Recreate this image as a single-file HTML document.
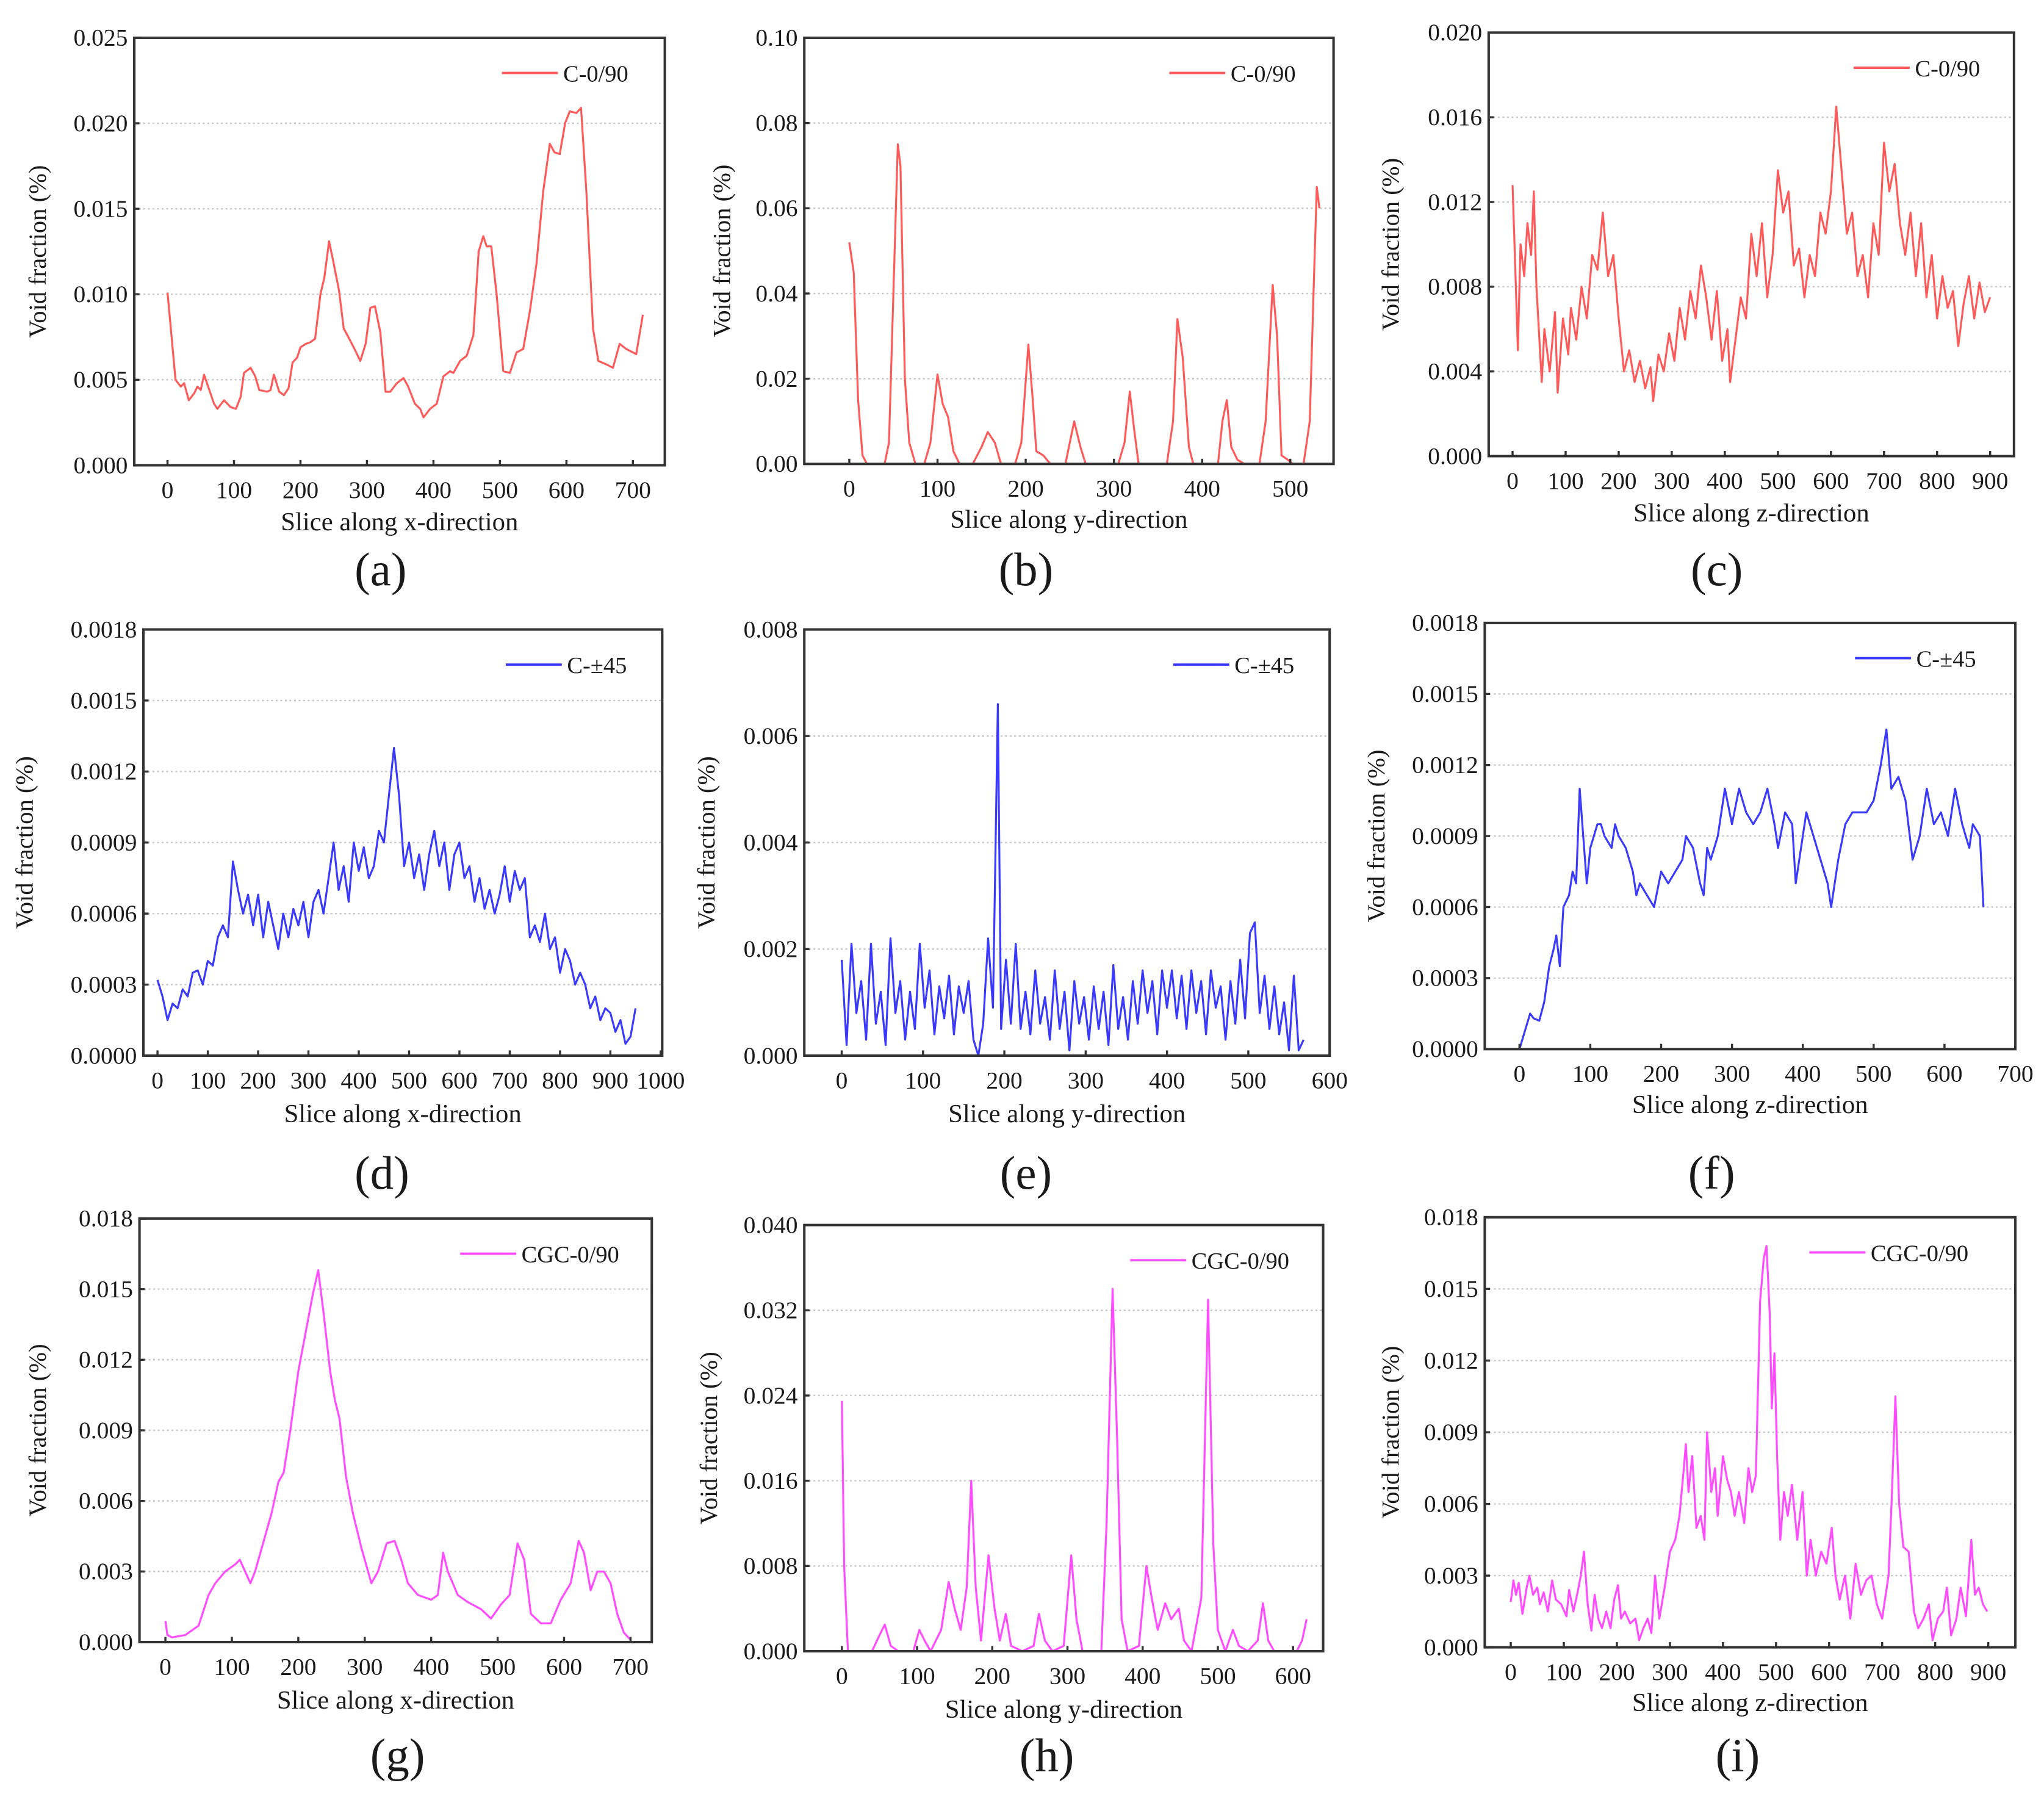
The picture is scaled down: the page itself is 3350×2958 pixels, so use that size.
<!DOCTYPE html>
<html><head><meta charset="utf-8">
<style>
html,body{margin:0;padding:0;background:#fff;}
svg{display:block;}
text{font-family:"Liberation Serif","DejaVu Serif",serif;fill:#1a1a1a;}
</style></head>
<body>
<svg id="fig" width="3350" height="2958" viewBox="0 0 1568 1385" preserveAspectRatio="none" xmlns="http://www.w3.org/2000/svg"></svg>
<script>
// ---------- data: panel (a) ----------
const aX=[0,5,12,20,25,32,40,45,50,55,62,70,75,85,95,103,110,115,125,132,138,150,155,160,168,175,182,188,195,200,208,215,222,230,236,243,250,258,265,272,280,290,298,305,312,320,328,335,345,355,362,372,380,385,395,405,415,425,430,440,450,460,468,475,480,487,495,505,515,525,535,545,555,565,575,582,590,598,605,615,622,630,640,648,660,670,680,690,705,715];
const aY=[0.0101,0.008,0.005,0.0046,0.0048,0.0038,0.0042,0.0046,0.0044,0.0053,0.0045,0.0036,0.0033,0.0038,0.0034,0.0033,0.004,0.0054,0.0057,0.0052,0.0044,0.0043,0.0044,0.0053,0.0043,0.0041,0.0045,0.006,0.0063,0.0069,0.0071,0.0072,0.0074,0.0100,0.0110,0.0131,0.0118,0.0102,0.0080,0.0075,0.0069,0.0061,0.0071,0.0092,0.0093,0.0078,0.0043,0.0043,0.0048,0.0051,0.0046,0.0036,0.0033,0.0028,0.0033,0.0036,0.0052,0.0055,0.0054,0.0061,0.0064,0.0076,0.0125,0.0134,0.0128,0.0128,0.0100,0.0055,0.0054,0.0066,0.0068,0.0090,0.0118,0.0160,0.0188,0.0183,0.0182,0.0200,0.0207,0.0206,0.0209,0.0160,0.0080,0.0061,0.0059,0.0057,0.0071,0.0068,0.0065,0.0088];
// ---------- panel (b) ----------
const bX=[0,5,10,15,20,40,45,50,55,58,63,68,75,85,92,100,106,112,118,125,140,150,157,165,172,188,195,203,208,212,220,228,245,255,262,268,305,312,318,323,328,360,367,372,378,385,390,418,423,428,433,440,448,465,472,480,485,490,497,503,515,522,527,530,533];
const bY=[0.052,0.045,0.015,0.002,0,0,0.005,0.04,0.075,0.07,0.02,0.005,0,0,0.005,0.021,0.014,0.011,0.003,0,0,0.004,0.0075,0.005,0,0,0.005,0.028,0.015,0.003,0.002,0,0,0.010,0.004,0,0,0.005,0.017,0.008,0,0,0.01,0.034,0.025,0.004,0,0,0.01,0.015,0.004,0.001,0,0,0.01,0.042,0.03,0.002,0.001,0,0,0.01,0.045,0.065,0.06];
// ---------- panel (c) ----------
const cX=[0,5,10,15,22,28,35,40,45,55,60,70,80,85,95,105,110,120,130,140,150,160,170,180,190,200,210,220,230,240,250,260,265,275,285,295,305,315,325,335,345,355,365,375,385,395,405,410,420,430,440,450,460,470,480,490,500,510,520,530,540,550,560,570,580,590,600,610,620,630,640,650,660,670,680,690,700,710,720,730,740,750,760,770,780,790,800,810,820,830,840,850,860,870,880,890,900];
const cY=[0.0128,0.009,0.005,0.010,0.0085,0.011,0.0095,0.0125,0.008,0.0035,0.006,0.004,0.0068,0.003,0.0065,0.0048,0.007,0.0055,0.008,0.0065,0.0095,0.0088,0.0115,0.0085,0.0095,0.0065,0.004,0.005,0.0035,0.0045,0.0032,0.0042,0.0026,0.0048,0.004,0.0058,0.0045,0.007,0.0055,0.0078,0.0065,0.009,0.0075,0.0055,0.0078,0.0045,0.006,0.0035,0.0055,0.0075,0.0065,0.0105,0.0085,0.011,0.0075,0.0095,0.0135,0.0115,0.0125,0.009,0.0098,0.0075,0.0095,0.0085,0.0115,0.0105,0.0125,0.0165,0.0135,0.0105,0.0115,0.0085,0.0095,0.0075,0.011,0.0095,0.0148,0.0125,0.0138,0.011,0.0095,0.0115,0.0085,0.011,0.0075,0.0095,0.0065,0.0085,0.007,0.0078,0.0052,0.0072,0.0085,0.0065,0.0082,0.0068,0.0075];
// ---------- panel (d) ----------
const dX=[0,10,20,30,40,50,60,70,80,90,100,110,120,130,140,150,160,170,180,190,200,210,220,230,240,250,260,270,280,290,300,310,320,330,340,350,360,370,380,390,400,410,420,430,440,450,460,470,480,490,500,510,520,530,540,550,560,570,580,590,600,610,620,630,640,650,660,670,680,690,700,710,720,730,740,750,760,770,780,790,800,810,820,830,840,850,860,870,880,890,900,910,920,930,940,950];
const dY=[0.00032,0.00025,0.00015,0.00022,0.0002,0.00028,0.00025,0.00035,0.00036,0.0003,0.0004,0.00038,0.0005,0.00055,0.0005,0.00082,0.0007,0.0006,0.00068,0.00055,0.00068,0.0005,0.00065,0.00055,0.00045,0.0006,0.0005,0.00062,0.00055,0.00065,0.0005,0.00065,0.0007,0.0006,0.00075,0.0009,0.0007,0.0008,0.00065,0.0009,0.00078,0.00088,0.00075,0.0008,0.00095,0.0009,0.0011,0.0013,0.0011,0.0008,0.0009,0.00075,0.00085,0.0007,0.00085,0.00095,0.0008,0.0009,0.0007,0.00085,0.0009,0.00075,0.0008,0.00065,0.00075,0.00062,0.0007,0.0006,0.00068,0.0008,0.00065,0.00078,0.0007,0.00075,0.0005,0.00055,0.00048,0.0006,0.00045,0.0005,0.00035,0.00045,0.0004,0.0003,0.00035,0.0003,0.0002,0.00025,0.00015,0.0002,0.00018,0.0001,0.00015,0.00005,0.00008,0.0002];
// ---------- panel (e) ----------
const eX=[0,6,12,18,24,30,36,42,48,54,60,66,72,78,84,90,96,102,108,114,120,126,132,138,144,150,156,162,168,174,180,186,192,196,202,208,214,220,226,232,238,244,250,256,262,268,274,280,286,292,298,304,310,316,322,328,334,340,346,352,358,364,370,376,382,388,394,400,406,412,418,424,430,436,442,448,454,460,466,472,478,484,490,496,502,508,514,520,526,532,538,544,550,556,562,568];
const eY=[0.0018,0.0002,0.0021,0.0008,0.0014,0.0003,0.0021,0.0006,0.0012,0.0002,0.0022,0.0008,0.0014,0.0003,0.0012,0.0005,0.0021,0.0009,0.0016,0.0004,0.0013,0.0007,0.0015,0.0004,0.0013,0.0008,0.0014,0.0003,0.0,0.0006,0.0022,0.0009,0.0066,0.0005,0.0018,0.0006,0.0021,0.0005,0.0012,0.0004,0.0016,0.0006,0.0011,0.0003,0.0016,0.0005,0.0012,0.0001,0.0014,0.0006,0.0011,0.0003,0.0013,0.0005,0.0012,0.0002,0.0017,0.0005,0.0011,0.0003,0.0014,0.0006,0.0016,0.0008,0.0014,0.0004,0.0016,0.0009,0.0016,0.0007,0.0015,0.0005,0.0016,0.0008,0.0014,0.0004,0.0016,0.0009,0.0013,0.0003,0.0014,0.0006,0.0018,0.0007,0.0023,0.0025,0.0008,0.0015,0.0005,0.0013,0.0004,0.001,0.0001,0.0015,0.0001,0.0003];
// ---------- panel (f) ----------
const fX=[0,5,10,15,20,28,35,42,48,52,57,62,70,75,80,85,90,95,100,110,115,120,130,135,140,150,160,165,170,180,190,200,210,220,230,235,245,255,260,265,270,280,290,300,310,320,330,340,350,360,365,375,385,390,400,405,415,425,435,440,450,460,470,480,490,500,510,518,525,535,545,555,565,575,585,595,605,615,625,635,640,650,655];
const fY=[0,0.00005,0.0001,0.00015,0.00013,0.00012,0.0002,0.00035,0.00042,0.00048,0.00035,0.0006,0.00065,0.00075,0.0007,0.0011,0.0009,0.0007,0.00085,0.00095,0.00095,0.0009,0.00085,0.00095,0.0009,0.00085,0.00075,0.00065,0.0007,0.00065,0.0006,0.00075,0.0007,0.00075,0.0008,0.0009,0.00085,0.0007,0.00065,0.00085,0.0008,0.0009,0.0011,0.00095,0.0011,0.001,0.00095,0.001,0.0011,0.00095,0.00085,0.001,0.00095,0.0007,0.0009,0.001,0.0009,0.0008,0.0007,0.0006,0.0008,0.00095,0.001,0.001,0.001,0.00105,0.0012,0.00135,0.0011,0.00115,0.00105,0.0008,0.0009,0.0011,0.00095,0.001,0.0009,0.0011,0.00095,0.00085,0.00095,0.0009,0.0006];
// ---------- panel (g) ----------
const gX=[0,3,10,30,50,65,75,90,105,112,120,128,135,145,160,170,178,188,200,210,222,230,238,248,255,262,272,282,295,310,320,333,345,355,365,380,400,410,418,425,440,455,475,490,505,518,530,540,550,565,580,595,610,622,630,640,650,660,670,680,690,700];
const gY=[0.0009,0.0003,0.0002,0.0003,0.0007,0.002,0.0025,0.003,0.0033,0.0035,0.003,0.0025,0.003,0.004,0.0055,0.0068,0.0072,0.009,0.0115,0.013,0.0148,0.0158,0.014,0.0115,0.0103,0.0095,0.007,0.0055,0.004,0.0025,0.003,0.0042,0.0043,0.0035,0.0025,0.002,0.0018,0.002,0.0038,0.003,0.002,0.0017,0.0014,0.001,0.0016,0.002,0.0042,0.0035,0.0012,0.0008,0.0008,0.0018,0.0025,0.0043,0.0038,0.0022,0.003,0.003,0.0025,0.0012,0.0004,0.0001];
// ---------- panel (h) ----------
const hX=[0,3,8,40,50,57,65,75,95,103,110,118,132,142,150,158,166,172,178,185,195,203,210,218,225,240,255,262,270,280,295,305,312,320,345,352,360,366,372,380,395,405,412,420,430,438,448,455,465,478,487,494,500,510,520,528,540,553,560,567,575,605,612,618];
const hY=[0.0235,0.008,0,0,0.0015,0.0025,0.0005,0,0,0.002,0.001,0,0.002,0.0065,0.004,0.002,0.006,0.016,0.006,0.001,0.009,0.004,0.001,0.0035,0.0005,0,0.0005,0.0035,0.001,0,0.0005,0.009,0.003,0,0,0.012,0.034,0.02,0.003,0,0.0005,0.008,0.005,0.002,0.0045,0.003,0.004,0.001,0,0.005,0.033,0.01,0.002,0,0.002,0.0005,0,0.001,0.0045,0.001,0,0,0.001,0.003];
// ---------- panel (i) ----------
const iX=[0,5,10,15,22,30,35,42,50,55,62,70,78,85,95,105,110,118,125,132,138,145,152,158,165,172,180,188,195,202,208,215,225,235,242,250,258,265,272,280,290,300,310,318,325,330,335,342,350,358,365,370,378,385,390,400,408,415,422,430,440,448,455,462,470,477,482,488,492,497,502,508,515,522,530,540,550,558,565,575,585,595,605,612,620,630,640,650,660,670,680,690,700,712,718,725,732,740,750,760,768,778,788,795,805,815,822,830,840,848,858,868,875,882,890,898];
const iY=[0.0019,0.0028,0.0022,0.0027,0.0014,0.0025,0.003,0.0022,0.0025,0.0018,0.0023,0.0015,0.0028,0.002,0.0018,0.0013,0.0024,0.0015,0.0022,0.003,0.004,0.0018,0.0007,0.0022,0.0012,0.0008,0.0015,0.0008,0.002,0.0026,0.0012,0.0015,0.001,0.0012,0.0003,0.0008,0.0012,0.0006,0.003,0.0012,0.0025,0.004,0.0045,0.0055,0.0072,0.0085,0.0065,0.008,0.005,0.0055,0.0045,0.009,0.0065,0.0075,0.0055,0.008,0.007,0.0065,0.0055,0.0065,0.0052,0.0075,0.0065,0.0072,0.0145,0.0163,0.0168,0.014,0.01,0.0123,0.008,0.0045,0.0065,0.0055,0.0068,0.0045,0.0065,0.003,0.0045,0.003,0.004,0.0035,0.005,0.003,0.002,0.003,0.0012,0.0035,0.0022,0.0028,0.003,0.0018,0.0012,0.003,0.0062,0.0105,0.006,0.0042,0.004,0.0015,0.0008,0.0012,0.0018,0.0003,0.0012,0.0015,0.0025,0.0005,0.0012,0.0025,0.0013,0.0045,0.0022,0.0025,0.0018,0.0015];

// tick label arrays
const xTicksA=[0,100,200,300,400,500,600,700];
const xTicksB=[0,100,200,300,400,500];
const xTicksC=[0,100,200,300,400,500,600,700,800,900];
const xTicksD=[0,100,200,300,400,500,600,700,800,900,1000];
const xTicksE=[0,100,200,300,400,500,600];
const yTicksA=[0,0.005,0.010,0.015,0.020,0.025];
const yTicksB=[0,0.02,0.04,0.06,0.08,0.10];
const yTicksC=[0,0.004,0.008,0.012,0.016,0.020];
const yTicksD=[0,0.0003,0.0006,0.0009,0.0012,0.0015,0.0018];
const yTicksE=[0,0.002,0.004,0.006,0.008];
const yTicksG=[0,0.003,0.006,0.009,0.012,0.015,0.018];
const yTicksH=[0,0.008,0.016,0.024,0.032,0.040];

const NS="http://www.w3.org/2000/svg";
const svg=document.getElementById('fig');
function mk(tag,attrs,parent){const e=document.createElementNS(NS,tag);for(const k in attrs)e.setAttribute(k,attrs[k]);(parent||svg).appendChild(e);return e;}

const RED="#ff5a5a",BLUE="#3a3aff",MAG="#ff4cff";
const panels=[
 {id:'a',box:[103,29,510,357],xr:[-50,748],xt:xTicksA,yt:yTicksA,dec:3,xs:aX,ys:aY,col:RED,leg:'C-0/90',lo:125,xl:'Slice along x-direction',xlY:407,ytX:35,lab:[292,437]},
 {id:'b',box:[617,29,1023,356],xr:[-51,549],xt:xTicksB,yt:yTicksB,dec:2,xs:bX,ys:bY,col:RED,leg:'C-0/90',lo:126,xl:'Slice along y-direction',xlY:405,ytX:560,lab:[787,437]},
 {id:'c',box:[1142,25,1545,350],xr:[-45,945],xt:xTicksC,yt:yTicksC,dec:3,xs:cX,ys:cY,col:RED,leg:'C-0/90',lo:123,xl:'Slice along z-direction',xlY:400,ytX:1073,lab:[1317,437]},
 {id:'d',box:[110,483,508,810],xr:[-28,1003],xt:xTicksD,yt:yTicksD,dec:4,xs:dX,ys:dY,col:BLUE,leg:'C-\u00b145',lo:120,xl:'Slice along x-direction',xlY:861,ytX:25,lab:[293,900]},
 {id:'e',box:[617,483,1020,810],xr:[-46,600],xt:xTicksE,yt:yTicksE,dec:3,xs:eX,ys:eY,col:BLUE,leg:'C-\u00b145',lo:120,xl:'Slice along y-direction',xlY:861,ytX:548,lab:[787,900]},
 {id:'f',box:[1139,478,1546,805],xr:[-49,700],xt:xTicksA,yt:yTicksD,dec:4,xs:fX,ys:fY,col:BLUE,leg:'C-\u00b145',lo:123,xl:'Slice along z-direction',xlY:854,ytX:1062,lab:[1313,900]},
 {id:'g',box:[107,935,500,1260],xr:[-39,732],xt:xTicksA,yt:yTicksG,dec:3,xs:gX,ys:gY,col:MAG,leg:'CGC-0/90',lo:147,xl:'Slice along x-direction',xlY:1311,ytX:35,lab:[305,1347]},
 {id:'h',box:[617,940,1015,1267],xr:[-50,640],xt:xTicksE,yt:yTicksH,dec:3,xs:hX,ys:hY,col:MAG,leg:'CGC-0/90',lo:148,xl:'Slice along y-direction',xlY:1318,ytX:550,lab:[803,1347]},
 {id:'i',box:[1139,934,1546,1264],xr:[-49,951],xt:xTicksC,yt:yTicksG,dec:3,xs:iX,ys:iY,col:MAG,leg:'CGC-0/90',lo:158,xl:'Slice along z-direction',xlY:1313,ytX:1073,lab:[1333,1347]}
];

panels.forEach(p=>{
  const [L,T,R,B]=p.box;
  const ymax=p.yt[p.yt.length-1];
  const sx=v=>L+(v-p.xr[0])/(p.xr[1]-p.xr[0])*(R-L);
  const sy=v=>B-(v/ymax)*(B-T);
  const g=mk('g',{});
  
  
  p.yt.forEach((v,k)=>{
    if(k===0||k===p.yt.length-1)return;
    const ln=mk('line',{x1:L,x2:R,y1:sy(v),y2:sy(v),stroke:'#c8c8c8','stroke-width':1.1,'stroke-dasharray':'1.5,2'},g);
    
    
  });
  let d='';
  p.xs.forEach((x,k)=>{d+=(k?'L':'M')+sx(x).toFixed(2)+','+sy(p.ys[k]).toFixed(2);});
  const path=mk('path',{d:d,fill:'none',stroke:p.col,'stroke-width':1.5,'stroke-linejoin':'round'},g);
  
  
  const fr=mk('rect',{x:L,y:T,width:R-L,height:B-T,fill:'none',stroke:'#333','stroke-width':1.9},g);
  
  
  p.yt.forEach(v=>{
    const y=sy(v);
    mk('line',{x1:L,x2:L+4,y1:y,y2:y,stroke:'#333','stroke-width':1.6},g);
    const t=mk('text',{x:L-5,y:y+6,'text-anchor':'end','font-size':18.5},g);
    t.textContent=v.toFixed(p.dec);
    
    
  });
  p.xt.forEach(v=>{
    const x=sx(v);
    mk('line',{x1:x,x2:x,y1:B,y2:B-4,stroke:'#333','stroke-width':1.6},g);
    const t=mk('text',{x:x,y:B+25,'text-anchor':'middle','font-size':18.5},g);
    t.textContent=String(v);
    
    
  });
  const xt=mk('text',{x:(L+R)/2,y:p.xlY,'text-anchor':'middle','font-size':20},g);
  xt.textContent=p.xl;
  
  
  const cy=(T+B)/2;
  const yt=mk('text',{x:p.ytX,y:cy,'text-anchor':'middle','font-size':19,transform:'rotate(-90 '+p.ytX+' '+cy+')'},g);
  yt.textContent='Void fraction (%)';
  
  
  const lg=mk('g',{},g);
  
  
  const lx=R-p.lo, ly=T+27;
  mk('line',{x1:lx,x2:lx+43,y1:ly,y2:ly,stroke:p.col,'stroke-width':1.8},lg);
  const lt=mk('text',{x:lx+47,y:ly+6.5,'font-size':18},lg);
  lt.textContent=p.leg;
  const pl=mk('text',{x:p.lab[0],y:p.lab[1]+12,'text-anchor':'middle','font-size':36},g);
  pl.textContent='('+p.id+')';
  
  
});
</script>
</body></html>
